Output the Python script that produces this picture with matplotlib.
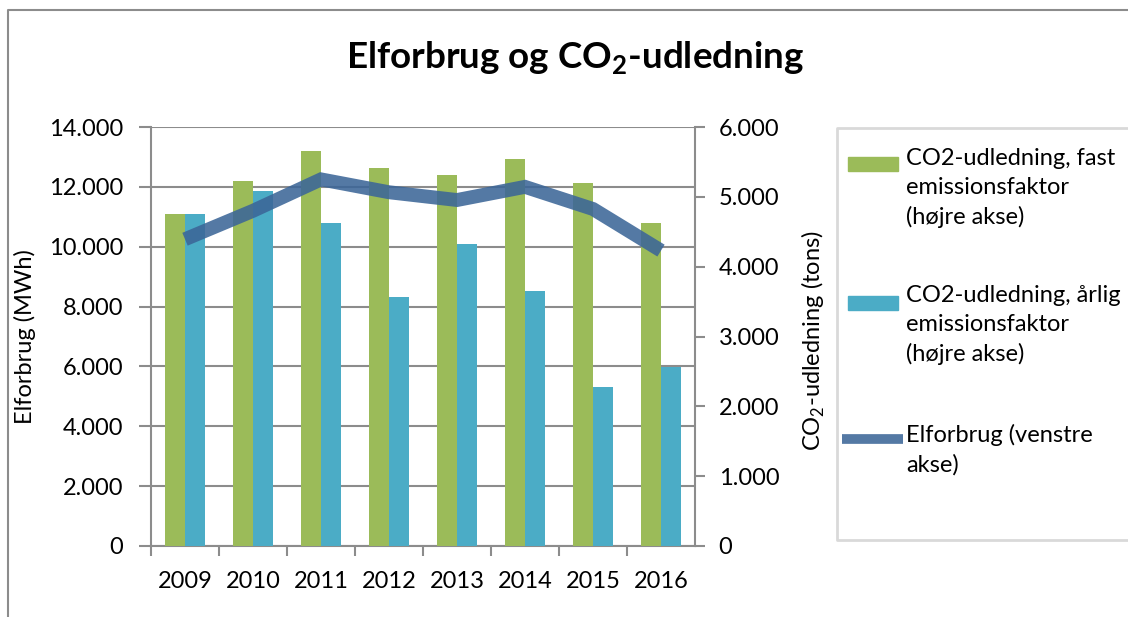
import numpy as np
import matplotlib
matplotlib.use("Agg")
import matplotlib.pyplot as plt
from matplotlib.patches import Rectangle
from matplotlib.lines import Line2D
from matplotlib.ticker import FuncFormatter

plt.rcParams["font.family"] = ["Lato", "DejaVu Sans"]
plt.rcParams["mathtext.fontset"] = "custom"
plt.rcParams["mathtext.rm"] = "Lato"
plt.rcParams["mathtext.bf"] = "Lato:bold"

years = ["2009", "2010", "2011", "2012", "2013", "2014", "2015", "2016"]
co2_fast = [4760, 5220, 5650, 5420, 5310, 5540, 5200, 4620]      # tons, right axis
co2_aarlig = [4760, 5080, 4620, 3570, 4330, 3650, 2280, 2560]    # tons, right axis
elforbrug = [10250, 11200, 12250, 11820, 11560, 12000, 11260, 9870]  # MWh, left axis

legend_labels = ["CO2-udledning, fast\nemissionsfaktor\n(højre akse)",
                 "CO2-udledning, årlig\nemissionsfaktor\n(højre akse)",
                 "Elforbrug (venstre\nakse)"]

GREEN = "#9bbb59"
BLUE = "#4bacc6"
LINE = "#3c6698"
GRID = "#8c8c8c"
FS = 17

W, H = 1128, 617
fig = plt.figure(figsize=(W / 100, H / 100), dpi=100)
ax = fig.add_axes([151 / W, 1 - 546 / H, 544 / W, 419 / H])
ax2 = ax.twinx()
ax3 = ax.twinx()

x = np.arange(len(years))
w = 0.287
dotfmt = FuncFormatter(lambda v, p: f"{int(v):,}".replace(",", "."))

# left axis: grid + ticks
ax.set_ylim(0, 14000)
ax.set_yticks(np.arange(0, 14001, 2000))
ax.yaxis.set_major_formatter(dotfmt)
ax.grid(axis="y", color=GRID, linewidth=1.5)
ax.set_axisbelow(True)
ax.set_xlim(-0.5, len(years) - 0.5)
ax.set_xticks(x - 0.5, [""] * len(years))
ax.set_xticks(x, years, minor=True)
ax.tick_params(axis="x", which="major", length=7, width=1.5, color=GRID, direction="out")
ax.tick_params(axis="x", which="minor", length=0, pad=18, labelsize=FS)
ax.tick_params(axis="y", length=9, width=1.5, color=GRID, pad=11, labelsize=FS)
ax.set_ylabel("Elforbrug (MWh)", fontsize=FS)
ax.yaxis.set_label_coords(-0.211, 0.5)

# right axis: bars
ax2.bar(x - w / 2, co2_fast, w, color=GREEN, zorder=2)
ax2.bar(x + w / 2, co2_aarlig, w, color=BLUE, zorder=2)
ax2.set_ylim(0, 6000)
ax2.set_yticks(np.arange(0, 6001, 1000))
ax2.yaxis.set_major_formatter(dotfmt)
ax2.tick_params(axis="y", length=7, width=1.5, color=GRID, pad=10, labelsize=FS)
ax2.set_ylabel("CO$_2$-udledning (tons)", fontsize=FS)
ax2.yaxis.set_label_coords(1.193, 0.49)

# line on top (left scale)
ax3.plot(x, elforbrug, color=LINE, linewidth=10, alpha=0.88, solid_capstyle="butt",
         solid_joinstyle="miter")
ax3.set_ylim(0, 14000)
ax3.set_yticks([])

for a in (ax, ax2, ax3):
    a.spines["top"].set_visible(False)
    for s in ("left", "right", "bottom"):
        a.spines[s].set_color(GRID)
        a.spines[s].set_linewidth(1.5)
ax.spines["right"].set_visible(False)
for s in ("left", "right", "bottom"):
    ax3.spines[s].set_visible(False)
ax2.spines["left"].set_visible(False)
ax2.spines["bottom"].set_visible(False)

fig.text(575 / W, 1 - 58 / H, r"Elforbrug og CO$_\mathbf{2}$-udledning", ha="center",
         va="center", fontsize=26.5, fontweight="bold")


def px(xp, yp):
    return xp / W, 1 - yp / H


# outer chart frame (runs off the right and bottom edges)
fig.lines.append(Line2D([7.5 / W, 7.5 / W, 1.1], [-0.1, 1 - 10 / H, 1 - 10 / H],
                        transform=fig.transFigure, color=GRID, linewidth=1.5))
# legend box (also runs off the right edge)
fig.lines.append(Line2D([1.1, 837 / W, 837 / W, 1.1],
                        [1 - 128 / H, 1 - 128 / H, 1 - 540 / H, 1 - 540 / H],
                        transform=fig.transFigure, color="#d9d9d9", linewidth=2))

# legend entries, handle level with the first text line
entry_y = [165, 302, 441]
fig.patches.append(Rectangle(px(848, 171), 50 / W, 14 / H, transform=fig.transFigure,
                             color=GREEN))
fig.patches.append(Rectangle(px(848, 310), 50 / W, 14 / H, transform=fig.transFigure,
                             color=BLUE))
fig.lines.append(Line2D([842 / W, 903 / W], [1 - 439 / H] * 2, transform=fig.transFigure,
                        color=LINE, linewidth=7, alpha=0.88, solid_capstyle="butt"))
for lab, yp in zip(legend_labels, entry_y):
    fig.text(906 / W, 1 - (yp - 17) / H, lab, ha="left", va="top", fontsize=FS,
             linespacing=1.45)

fig.savefig("out.png", dpi=100)
